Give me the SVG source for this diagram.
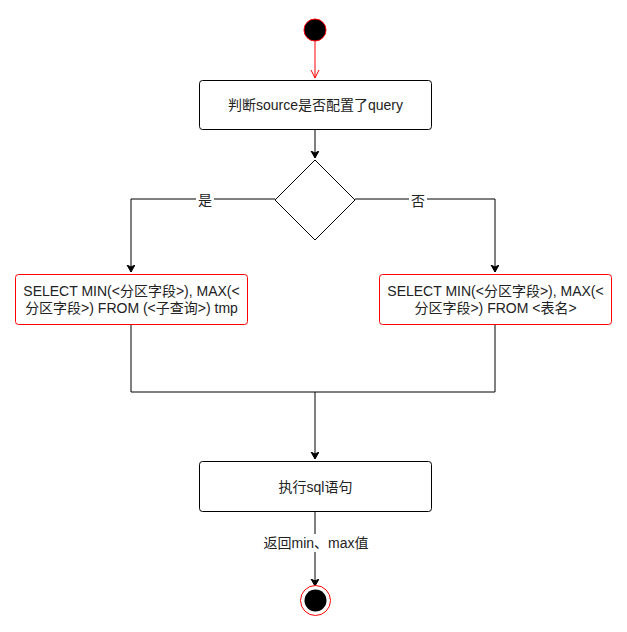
<svg xmlns="http://www.w3.org/2000/svg" width="627" height="632" viewBox="0 0 627 632">
<style>
.box{fill:#fff;stroke:#000;stroke-width:1}
.rbox{fill:#fff;stroke:#ff0000;stroke-width:1}
.edge{fill:none;stroke:#000;stroke-width:1}
.t{font-family:"Liberation Sans","Noto Sans CJK SC",sans-serif;font-size:14px;fill:#222;text-anchor:middle;dominant-baseline:central}
</style>
<defs>
<marker id="arr" markerWidth="10" markerHeight="10" refX="7" refY="4" orient="auto" markerUnits="userSpaceOnUse">
<path d="M0,0 L7,4 L0,8 L2,4 Z" fill="#000" stroke="#000" stroke-width="1"/>
</marker>
<marker id="open" markerWidth="12" markerHeight="12" refX="8" refY="5" orient="auto" markerUnits="userSpaceOnUse">
<path d="M0,1 L8,5 L0,9" fill="none" stroke="#ff0000" stroke-width="1"/>
</marker>
</defs>
<g id="edges">
<path class="edge" d="M315,41 L315,78" stroke="#ff0000" style="stroke:#ff0000" marker-end="url(#open)"/>
<path class="edge" d="M315,129 L315,158" marker-end="url(#arr)"/>
<path class="edge" d="M275,199 L131,199 L131,272" marker-end="url(#arr)"/>
<path class="edge" d="M355,199 L495,199 L495,272" marker-end="url(#arr)"/>
<path class="edge" d="M131,324 L131,392 L495,392 L495,324"/>
<path class="edge" d="M315,392 L315,459" marker-end="url(#arr)"/>
<path class="edge" d="M315,511 L315,586" marker-end="url(#arr)"/>
<rect x="196" y="192" width="18" height="16" fill="#fff"/>
<text class="t" x="205" y="200">是</text>
<rect x="409" y="193" width="18" height="16" fill="#fff"/>
<text class="t" x="418" y="201">否</text>
<rect x="263" y="534" width="106" height="18" fill="#fff"/>
<text class="t" x="316" y="543">返回min、max值</text>
</g>
<g id="start">
<circle cx="315" cy="30" r="11" fill="#000" stroke="#ff0000" stroke-width="1"/>
</g>
<g id="check">
<rect class="box" x="199.5" y="80.5" width="232" height="49" rx="3"/>
<text class="t" x="315.5" y="105">判断source是否配置了query</text>
</g>
<g id="decision">
<path class="box" d="M315,160 L355,200 L315,240 L275,200 Z"/>
</g>
<g id="left">
<rect class="rbox" x="15.5" y="274.5" width="232" height="50" rx="3"/>
<text class="t" x="131.5" y="291">SELECT MIN(&lt;分区字段&gt;), MAX(&lt;</text>
<text class="t" x="131.5" y="308">分区字段&gt;) FROM (&lt;子查询&gt;) tmp</text>
</g>
<g id="right">
<rect class="rbox" x="379.5" y="274.5" width="232" height="50" rx="3"/>
<text class="t" x="495.5" y="291">SELECT MIN(&lt;分区字段&gt;), MAX(&lt;</text>
<text class="t" x="495.5" y="308">分区字段&gt;) FROM &lt;表名&gt;</text>
</g>
<g id="exec">
<rect class="box" x="199.5" y="461.5" width="232" height="50" rx="3"/>
<text class="t" x="315.5" y="487">执行sql语句</text>
</g>
<g id="end">
<circle cx="315.5" cy="600.5" r="15" fill="#fff" stroke="#ff0000" stroke-width="1"/>
<circle cx="315.5" cy="600.5" r="11" fill="#000"/>
</g>
</svg>
